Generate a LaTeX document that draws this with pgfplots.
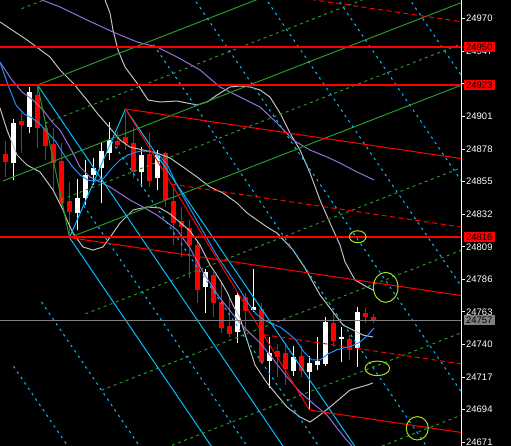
\documentclass[border=0pt]{standalone}
\usepackage{fontspec}
\setmainfont{Liberation Sans}
\usepackage{pgfplots}
\pgfplotsset{compat=1.18}

\definecolor{cyanc}{RGB}{0,191,255}
\definecolor{greenc}{RGB}{40,150,40}
\definecolor{bluema}{RGB}{30,144,255}
\definecolor{purplema}{RGB}{147,112,219}
\definecolor{silver}{RGB}{192,192,192}
\definecolor{bidgray}{RGB}{128,128,128}
\definecolor{ringc}{RGB}{160,230,30}
\definecolor{lvlred}{RGB}{255,0,0}

% candles: x, open, high, low, close
\newcommand{\bull}[5]{%
  \addplot[white, line width=1bp] coordinates {(#1,#4) (#1,#3)};
  \addplot[white, line width=5bp] coordinates {(#1,#2) (#1,#5)};}
\newcommand{\bear}[5]{%
  \addplot[red, line width=1bp] coordinates {(#1,#4) (#1,#3)};
  \addplot[red, line width=5bp] coordinates {(#1,#2) (#1,#5)};}
% straight object line: style, x1, y1, x2, y2
\newcommand{\seg}[5]{\addplot[#1] coordinates {(#2,#3) (#4,#5)};}
% price box on the scale: colour, price
\newcommand{\pricebox}[2]{%
  \node[fill=#1, text=black, font=\fontsize{9.5}{10}\selectfont, anchor=west,
        inner sep=0pt, minimum width=31bp, minimum height=10bp]
    at (axis cs:463.5,#2) {#2};}

\tikzset{
  cyansolid/.style={cyanc, line width=1bp},
  cyandash/.style={cyanc, line width=1bp, dash pattern=on 2.5bp off 4bp},
  greensolid/.style={greenc, line width=1bp},
  greendash/.style={greenc, line width=1bp, dash pattern=on 3bp off 3.5bp},
  redsolid/.style={red, line width=1bp},
  reddash/.style={red, line width=1bp, dash pattern=on 5bp off 3.5bp},
  hlevel/.style={draw=lvlred, line width=1.5bp},
}

\begin{document}
\begin{tikzpicture}
\fill[black] (0,0) rectangle (511bp,446bp);
\begin{axis}[
    at={(0,0)}, anchor=south west,
    scale only axis, width=461bp, height=446bp,
    xmin=0, xmax=461, ymin=24668.4, ymax=24983.2,
    axis x line=none,
    axis y line*=right,
    y axis line style={white, line width=1bp, -},
    ytick={24671,24694,24717,24740,24763,24786,24809,24832,24855,24878,24901,24924,24947,24970},
    yticklabels={24671,24694,24717,24740,24763,24786,24809,24832,24855,24878,24901,24924,24947,24970},
    tick align=outside, major tick length=4bp,
    ytick style={white, line width=1bp},
    yticklabel style={text=white, font=\fontsize{9.5}{10}\selectfont, inner sep=1bp},
    clip mode=individual,
]

% ---- candles ----
\bear{5.5}{24874.5}{24883.7}{24858.5}{24869.1}
\bull{13.5}{24867.9}{24899.2}{24856.1}{24896.6}
\bear{21.5}{24898.0}{24903.4}{24875.2}{24895.2}
\bull{29.5}{24893.8}{24922.0}{24889.1}{24918.3}
\bear{37.5}{24916.1}{24923.2}{24878.7}{24893.1}
\bear{45.5}{24892.9}{24897.8}{24870.3}{24880.1}
\bear{53.5}{24881.6}{24892.9}{24849.1}{24867.9}
\bear{61.5}{24869.6}{24882.3}{24836.4}{24839.9}
\bear{69.5}{24841.3}{24854.9}{24815.5}{24833.8}
\bull{77.5}{24832.6}{24856.8}{24820.8}{24843.6}
\bull{85.5}{24843.2}{24870.3}{24838.5}{24859.7}
\bull{93.5}{24859.7}{24871.7}{24852.6}{24864.6}
\bull{101.5}{24864.4}{24882.3}{24839.9}{24876.8}
\bull{109.5}{24875.2}{24897.1}{24870.3}{24884.4}
\bear{117.5}{24883.9}{24890.2}{24878.7}{24881.1}
\bear{125.5}{24886.5}{24904.0}{24877.3}{24882.5}
\bear{133.5}{24882.0}{24893.8}{24857.6}{24862.0}
\bull{141.5}{24862.0}{24879.7}{24851.4}{24873.8}
\bear{149.5}{24874.5}{24889.3}{24851.4}{24855.6}
\bull{157.5}{24857.3}{24877.3}{24849.1}{24873.8}
\bear{165.5}{24875.2}{24876.1}{24837.3}{24842.0}
\bear{173.5}{24841.5}{24851.4}{24810.3}{24826.0}
\bear{181.5}{24827.4}{24837.3}{24802.0}{24823.2}
\bear{189.5}{24822.3}{24827.9}{24787.0}{24810.3}
\bear{197.5}{24810.3}{24812.6}{24769.3}{24778.5}
\bull{205.5}{24780.8}{24793.3}{24762.3}{24791.4}
\bear{213.5}{24789.1}{24791.4}{24759.7}{24769.1}
\bear{221.5}{24770.2}{24784.4}{24748.1}{24751.5}
\bear{229.5}{24753.3}{24772.8}{24745.5}{24747.4}
\bull{237.5}{24749.1}{24776.4}{24741.1}{24775.0}
\bear{245.5}{24773.8}{24776.4}{24749.1}{24763.9}
\bull{253.5}{24764.4}{24793.3}{24763.0}{24766.3}
\bear{261.5}{24764.9}{24769.3}{24727.3}{24727.9}
\bull{269.5}{24728.6}{24745.3}{24709.3}{24734.2}
\bear{277.5}{24735.4}{24740.4}{24717.3}{24731.4}
\bear{285.5}{24733.8}{24739.7}{24711.4}{24722.5}
\bull{293.5}{24721.5}{24739.0}{24717.8}{24731.0}
\bear{301.5}{24731.9}{24739.0}{24716.9}{24721.5}
\bull{309.5}{24720.8}{24731.9}{24693.8}{24727.2}
\bull{317.5}{24725.6}{24745.5}{24722.0}{24728.4}
\bull{325.5}{24726.3}{24759.7}{24724.9}{24756.1}
\bear{333.5}{24755.2}{24762.3}{24738.5}{24742.7}
\bull{341.5}{24743.7}{24752.6}{24727.9}{24745.5}
\bear{349.5}{24743.7}{24746.7}{24729.1}{24736.1}
\bull{357.5}{24737.8}{24766.7}{24724.4}{24763.2}
\bear{365.5}{24762.5}{24765.8}{24755.0}{24759.7}
\bear{373.5}{24759.7}{24761.6}{24755.0}{24757.0}

% ---- indicator curves ----
% silver bands
\addplot[silver, line width=1bp] coordinates {
(105,24983.2) (110,24974.0) (113,24962.0) (118,24947.9) (125,24935.9) (137,24924.6)
(148,24912.6) (160,24911.2) (177,24911.9) (187,24910.5) (197,24909.1) (207,24911.2)
(217,24916.1) (230,24921.8) (240,24922.5) (250,24921.8) (260,24919.7) (270,24914.7)
(280,24903.4) (290,24889.3) (300,24877.3) (310,24861.1) (320,24842.0) (330,24825.8)
(340,24810.3) (345,24798.3) (355,24785.6) (367,24780.6) (373,24778.5)};
\addplot[silver, line width=1bp] coordinates {
(0,24967.7) (27,24955.0) (50,24943.0) (60,24933.8) (73,24924.6) (87,24912.6)
(97,24903.4) (110,24892.9) (120,24884.4) (130,24879.4) (143,24877.3) (157,24875.2)
(170,24871.7) (183,24865.3) (197,24858.3) (210,24851.2) (223,24847.0) (237,24839.9)
(247,24832.9) (257,24827.9) (267,24823.0) (277,24818.7) (293,24806.7) (305,24794.0)
(320,24775.0) (343,24753.8) (363,24746.7) (373,24745.3)};
\addplot[silver, line width=1bp] coordinates {
(0,24907.0) (7,24891.4) (17,24873.8) (27,24866.7) (40,24861.8) (53,24849.1)
(63,24835.0) (67,24827.9) (73,24818.7) (83,24808.9) (93,24806.7) (103,24808.9)
(113,24818.7) (120,24825.8) (133,24835.0) (147,24837.1) (160,24836.4) (170,24832.2)
(183,24824.4) (190,24820.2) (200,24810.3) (210,24796.2) (220,24785.6) (227,24777.1)
(233,24767.9) (240,24758.7) (247,24743.2) (255,24725.6) (267,24712.9) (287,24695.9)
(300,24688.9) (310,24685.3) (320,24690.3) (330,24695.9) (350,24707.9) (367,24711.4)
(373,24712.9)};
% purple averages
\addplot[purplema, line width=1bp] coordinates {
(42,24983.2) (60,24978.3) (87,24969.1) (113,24960.6) (137,24953.6) (157,24950.0)
(177,24943.0) (200,24933.8) (220,24921.8) (240,24914.7) (260,24907.7) (277,24896.4)
(293,24884.4) (310,24877.3) (327,24872.4) (340,24868.1) (357,24861.8) (374,24856.2)};
\addplot[purplema, line width=1bp] coordinates {
(0,24939.4) (12,24926.7) (22,24918.3) (33,24912.6) (43,24905.6) (53,24896.4)
(60,24891.4) (73,24875.2) (80,24865.3) (90,24858.3) (110,24851.2) (130,24842.0)
(143,24837.1) (157,24831.4) (177,24820.9) (190,24808.1) (203,24791.2) (217,24775.7)
(227,24766.5) (240,24755.2) (250,24748.1) (260,24741.1) (270,24732.6) (287,24717.1)
(300,24706.5) (315,24697.3) (327,24690.3) (337,24681.1) (345,24674.0) (352,24668.4)};
% blue average
\addplot[bluema, line width=1bp] coordinates {
(0,24939.4) (8,24923.2) (16,24909.1) (24,24902.7) (32,24899.9) (40,24895.7)
(48,24889.3) (56,24883.0) (64,24873.8) (72,24866.0) (80,24859.7) (88,24856.1)
(96,24855.4) (104,24857.6) (112,24864.6) (120,24870.3) (128,24873.8) (136,24875.9)
(144,24876.6) (152,24875.9) (160,24873.1) (168,24866.0) (176,24854.0) (184,24843.4)
(192,24833.6) (200,24823.7) (208,24813.8) (216,24803.9) (224,24795.4) (232,24787.0)
(240,24778.5) (248,24769.3) (256,24761.6) (264,24757.3) (272,24754.5) (280,24752.4)
(288,24748.1) (296,24743.2) (304,24734.7) (312,24729.1) (320,24729.1) (328,24733.3)
(336,24736.1) (344,24737.6) (352,24739.0) (360,24741.8) (368,24746.7) (374,24751.7)};

% ---- green pitchfork ----
\seg{greensolid}{37.5}{24923.2}{69.5}{24815.5}
\seg{greensolid}{37.5}{24923.2}{470}{25041.96}
\seg{greensolid}{3}{24855.5}{470}{24983.73}
\seg{greensolid}{69.5}{24815.5}{470}{24925.47}
\seg{greendash}{21.5}{24977.05}{470}{25100.2}
\seg{greendash}{45.5}{24896.3}{470}{25012.86}
\seg{greendash}{61.5}{24842.4}{470}{24954.57}
\seg{greendash}{85.5}{24761.65}{470}{24867.23}
\seg{greendash}{101.5}{24707.8}{470}{24808.98}
\seg{greendash}{117.5}{24653.95}{470}{24750.74}
\seg{greendash}{133.5}{24600.1}{470}{24692.5}

% ---- cyan pitchfork ----
\seg{cyansolid}{69.5}{24815.5}{125.5}{24906.3}
\seg{cyansolid}{37.5}{24923.2}{291.0}{24660}
\seg{cyansolid}{69.5}{24815.5}{219.3}{24660}
\seg{cyansolid}{125.5}{24906.3}{362.7}{24660}
\seg{cyandash}{13.5}{24724.7}{75.8}{24660}
\seg{cyandash}{41.5}{24770.1}{147.5}{24660}
\seg{cyandash}{83.5}{24838.2}{255.1}{24660}
\seg{cyandash}{111.5}{24883.6}{326.8}{24660}
\seg{cyandash}{153.5}{24951.7}{434.4}{24660}
\seg{cyandash}{181.5}{24997.1}{506.2}{24660}
\seg{cyandash}{209.5}{25042.5}{577.9}{24660}
\seg{cyandash}{237.5}{25087.9}{649.6}{24660}
\seg{cyandash}{265.5}{25133.3}{721.3}{24660}

% ---- red pitchfork ----
\seg{redsolid}{125.5}{24906.3}{309.5}{24693.8}
\seg{redsolid}{125.5}{24906.3}{470}{24870.34}
\seg{redsolid}{69.5}{24815.5}{470}{24773.69}
\seg{redsolid}{309.5}{24693.8}{470}{24677.05}
\seg{reddash}{33.5}{25012.55}{470}{24966.98}
\seg{reddash}{171.5}{24853.2}{470}{24822.04}
\seg{reddash}{263.5}{24747.0}{470}{24725.44}

% ---- horizontal levels and bid line ----
\addplot[hlevel] coordinates {(0,24950) (461,24950)};
\addplot[hlevel] coordinates {(0,24923.1) (461,24923.1)};
\addplot[hlevel] coordinates {(0,24816) (461,24816)};
\addplot[bidgray, line width=1.2bp] coordinates {(0,24757) (461,24757)};

% ---- rings ----
\draw[ringc, line width=1bp] (axis cs:357.7,24816.1) ellipse [x radius=8.3bp, y radius=6bp];
\draw[ringc, line width=1bp] (axis cs:385.7,24780.4) ellipse [x radius=12.3bp, y radius=15bp];
\draw[ringc, line width=1bp] (axis cs:377.3,24723.2) ellipse [x radius=12.3bp, y radius=7.3bp];
\draw[ringc, line width=1bp] (axis cs:417.3,24680.9) ellipse [x radius=11bp, y radius=11.7bp];

% ---- price boxes ----
\pricebox{red}{24950}
\pricebox{red}{24923}
\pricebox{red}{24816}
\pricebox{bidgray}{24757}
\end{axis}
\pgfresetboundingbox
\useasboundingbox (0,0) rectangle (511bp,446bp);
\end{tikzpicture}
\end{document}
